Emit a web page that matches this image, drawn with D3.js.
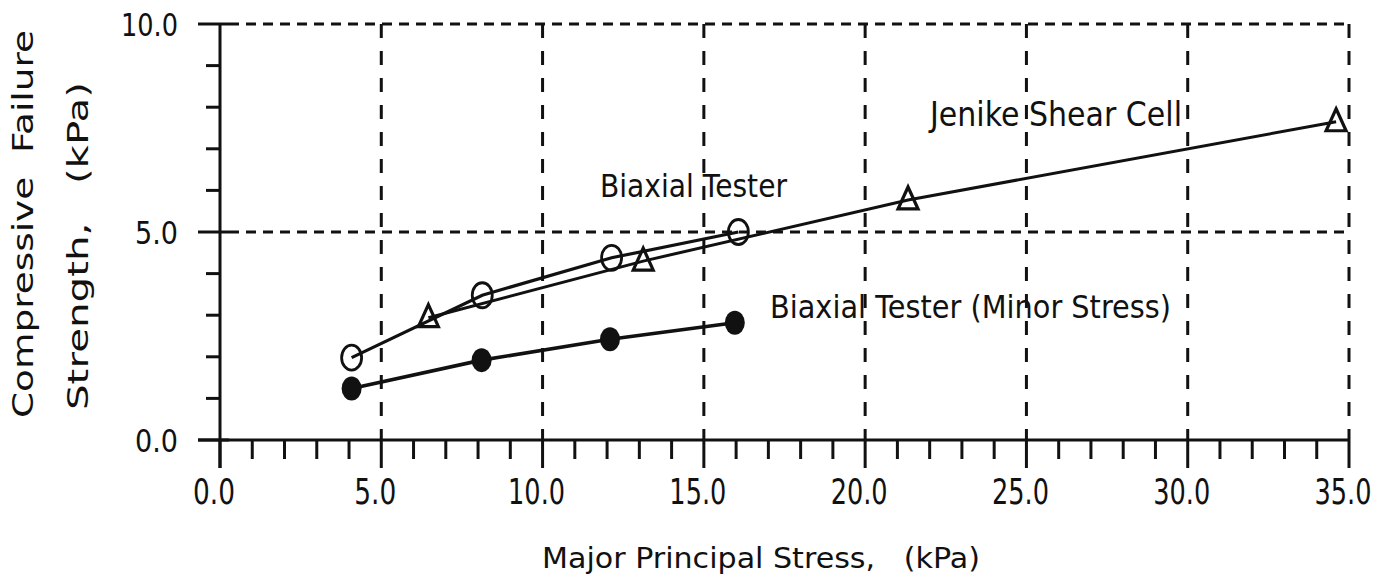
<!DOCTYPE html>
<html><head><meta charset="utf-8">
<script src="https://cdn.jsdelivr.net/npm/d3@7"></script>
<style>body{margin:0;background:#fff}svg{display:block}text{font-family:"DejaVu Sans",sans-serif;fill:#111}</style>
</head><body><svg id="c" width="1390" height="586"></svg>
<script>
// Data
const biaxialX = [4.08, 8.13, 12.14, 16.07];
const biaxialY = [1.98, 3.48, 4.38, 5.00];
const minorX = [4.08, 8.11, 12.09, 15.96];
const minorY = [1.24, 1.92, 2.42, 2.82];
const jenikeX = [6.46, 13.12, 21.33, 34.6];
const jenikeY = [2.94, 4.30, 5.77, 7.65];
const xTicks = [0, 5, 10, 15, 20, 25, 30, 35];
const xTickLabels = ["0.0","5.0","10.0","15.0","20.0","25.0","30.0","35.0"];
const yTicks = [0, 5, 10];
const yTickLabels = ["0.0","5.0","10.0"];

const svg = d3.select("#c");
const x = d3.scaleLinear().domain([0, 35]).range([220, 1349]);
const y = d3.scaleLinear().domain([0, 10]).range([440, 24]);
const ink = "#111";

// grid
const g = svg.append("g");
g.selectAll(".vg").data(xTicks.slice(1)).join("line")
  .attr("x1", d => x(d)).attr("x2", d => x(d)).attr("y1", y(10)).attr("y2", y(0))
  .attr("stroke", ink).attr("stroke-width", 3).attr("stroke-dasharray", "14,13");
g.selectAll(".hg").data([5, 10]).join("line")
  .attr("x1", 229).attr("x2", x(35)).attr("y1", d => y(d)).attr("y2", d => y(d))
  .attr("stroke", ink).attr("stroke-width", 3).attr("stroke-dasharray", "10,7");

// x minor ticks
const minorXs = d3.range(0, 36, 1).filter(v => v % 5 !== 0);
svg.append("g").selectAll("line").data(minorXs).join("line")
  .attr("x1", d => x(d)).attr("x2", d => x(d)).attr("y1", y(0)).attr("y2", y(0) + 19)
  .attr("stroke", ink).attr("stroke-width", 3);
svg.append("g").selectAll("line").data(xTicks).join("line")
  .attr("x1", d => x(d)).attr("x2", d => x(d)).attr("y1", y(0)).attr("y2", y(0) + 28)
  .attr("stroke", ink).attr("stroke-width", 3);
// y minor ticks
const minorYs = d3.range(0, 11, 1).filter(v => v % 5 !== 0);
svg.append("g").selectAll("line").data(minorYs).join("line")
  .attr("x1", x(0) - 14).attr("x2", x(0)).attr("y1", d => y(d)).attr("y2", d => y(d))
  .attr("stroke", ink).attr("stroke-width", 3);
svg.append("g").selectAll("line").data(yTicks).join("line")
  .attr("x1", x(0) - 22).attr("x2", x(0) + 9).attr("y1", d => y(d)).attr("y2", d => y(d))
  .attr("stroke", ink).attr("stroke-width", 3);
// axes
svg.append("line").attr("x1", x(0) - 22).attr("x2", x(35)).attr("y1", y(0)).attr("y2", y(0))
  .attr("stroke", ink).attr("stroke-width", 3);
svg.append("line").attr("x1", x(0)).attr("x2", x(0)).attr("y1", y(10)).attr("y2", y(0) + 28)
  .attr("stroke", ink).attr("stroke-width", 3);

// tick labels
svg.append("g").selectAll("text").data(xTicks).join("text")
  .attr("x", d => x(d) - 6).attr("y", 504).attr("text-anchor", "middle")
  .attr("font-size", 35).attr("textLength", (d, i) => xTickLabels[i].length === 3 ? 42 : 57)
  .attr("lengthAdjust", "spacingAndGlyphs").text((d, i) => xTickLabels[i]);
svg.append("g").selectAll("text").data(yTicks).join("text")
  .attr("x", 178).attr("y", d => y(d) + 12).attr("text-anchor", "end")
  .attr("font-size", 32).attr("textLength", (d, i) => yTickLabels[i].length === 3 ? 43 : 57)
  .attr("lengthAdjust", "spacingAndGlyphs").text((d, i) => yTickLabels[i]);

// series lines
const line = (xs, ys) => d3.line()(xs.map((v, i) => [x(v), y(ys[i])]));
svg.append("path").attr("d", line(jenikeX, jenikeY)).attr("fill", "none").attr("stroke", ink).attr("stroke-width", 3);
svg.append("path").attr("d", line(biaxialX, biaxialY)).attr("fill", "none").attr("stroke", ink).attr("stroke-width", 3.2);
svg.append("path").attr("d", line(minorX, minorY)).attr("fill", "none").attr("stroke", ink).attr("stroke-width", 3.6);

// markers
svg.append("g").selectAll("ellipse").data(biaxialX).join("ellipse")
  .attr("cx", d => x(d)).attr("cy", (d, i) => y(biaxialY[i])).attr("rx", 10).attr("ry", 12.5)
  .attr("fill", "none").attr("stroke", ink).attr("stroke-width", 2.8);
svg.append("g").selectAll("ellipse").data(minorX).join("ellipse")
  .attr("cx", d => x(d)).attr("cy", (d, i) => y(minorY[i])).attr("rx", 10).attr("ry", 12)
  .attr("fill", ink);
svg.append("g").selectAll("path").data(jenikeX).join("path")
  .attr("d", (d, i) => { const cx = x(d), cy = y(jenikeY[i]);
    return `M${cx},${cy - 13}L${cx + 10},${cy + 9}L${cx - 10},${cy + 9}Z`; })
  .attr("fill", "none").attr("stroke", ink).attr("stroke-width", 3.2).attr("stroke-linejoin", "miter");

// annotations
const ann = (t, x0, yb, len, fs) => svg.append("text").attr("x", x0).attr("y", yb)
  .attr("font-size", fs).attr("textLength", len).attr("lengthAdjust", "spacingAndGlyphs").text(t);
ann("Biaxial Tester", 600, 197, 187, 32);
ann("Jenike Shear Cell", 930, 126, 252, 34);
ann("Biaxial Tester (Minor Stress)", 770, 318, 401, 32);
ann("Major Principal Stress,   (kPa)", 542, 568, 438, 28).style("white-space", "pre");

// y title (rotated)
svg.append("text").attr("transform", "translate(33,224) rotate(-90)").attr("text-anchor", "middle")
  .attr("font-size", 28).attr("textLength", 388).attr("lengthAdjust", "spacingAndGlyphs")
  .style("white-space", "pre").text("Compressive  Failure");
svg.append("text").attr("transform", "translate(88,246) rotate(-90)").attr("text-anchor", "middle")
  .attr("font-size", 28).attr("textLength", 328).attr("lengthAdjust", "spacingAndGlyphs")
  .style("white-space", "pre").text("Strength,   (kPa)");
</script></body></html>
